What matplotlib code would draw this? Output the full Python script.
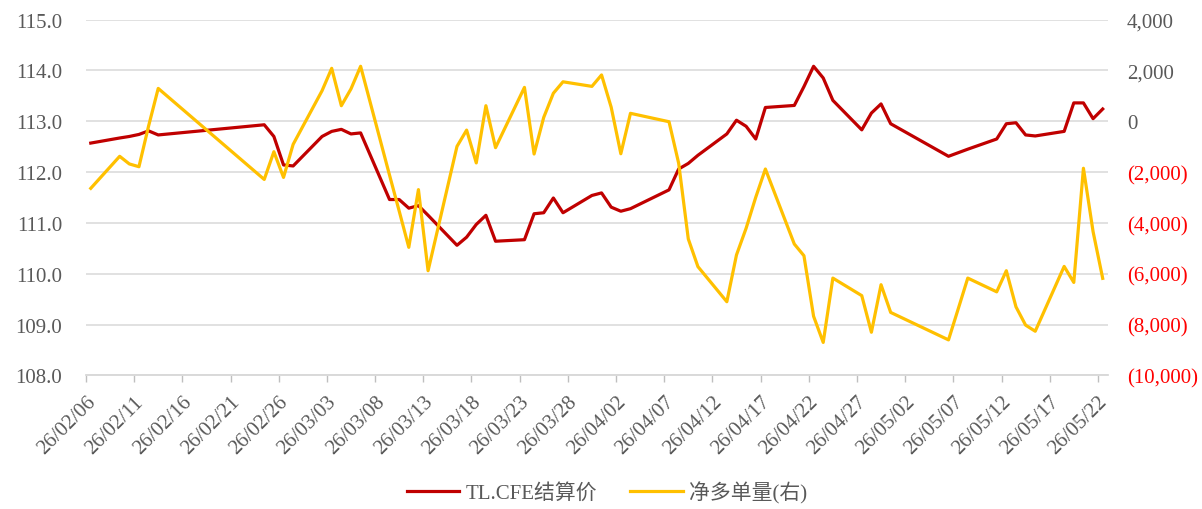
import matplotlib
matplotlib.use("Agg")
import matplotlib.pyplot as plt
import matplotlib.dates as mdates
import pandas as pd
import numpy as np

# trading days shown in the chart
dates = [
    "2026-02-06", "2026-02-09", "2026-02-10", "2026-02-11", "2026-02-12", "2026-02-13",
    "2026-02-24", "2026-02-25", "2026-02-26", "2026-02-27",
    "2026-03-02", "2026-03-03", "2026-03-04", "2026-03-05", "2026-03-06",
    "2026-03-09", "2026-03-10", "2026-03-11", "2026-03-12", "2026-03-13",
    "2026-03-16", "2026-03-17", "2026-03-18", "2026-03-19", "2026-03-20",
    "2026-03-23", "2026-03-24", "2026-03-25", "2026-03-26", "2026-03-27",
    "2026-03-30", "2026-03-31", "2026-04-01", "2026-04-02", "2026-04-03",
    "2026-04-07", "2026-04-08", "2026-04-09", "2026-04-10",
    "2026-04-13", "2026-04-14", "2026-04-15", "2026-04-16", "2026-04-17",
    "2026-04-20", "2026-04-21", "2026-04-22", "2026-04-23", "2026-04-24",
    "2026-04-27", "2026-04-28", "2026-04-29", "2026-04-30",
    "2026-05-06", "2026-05-07", "2026-05-08",
    "2026-05-11", "2026-05-12", "2026-05-13", "2026-05-14", "2026-05-15",
    "2026-05-18", "2026-05-19", "2026-05-20", "2026-05-21", "2026-05-22",
]

# TL.CFE settlement price (left axis)
price = [
    112.57, 112.67, 112.70, 112.74, 112.81, 112.73,
    112.93, 112.70, 112.14, 112.12,
    112.70, 112.80, 112.84, 112.75, 112.77,
    111.46, 111.46, 111.29, 111.34, 111.15,
    110.56, 110.72, 110.97, 111.15, 110.64,
    110.67, 111.18, 111.20, 111.49, 111.20,
    111.54, 111.59, 111.31, 111.23, 111.28,
    111.65, 112.06, 112.17, 112.33,
    112.75, 113.02, 112.90, 112.65, 113.27,
    113.31, 113.68, 114.08, 113.85, 113.41,
    112.83, 113.16, 113.34, 112.95,
    112.31, 112.38, 112.45,
    112.65, 112.95, 112.97, 112.73, 112.71,
    112.80, 113.36, 113.36, 113.05, 113.24,
]

# net long positions (right axis)
net_long = [
    -2640, -1380, -1680, -1790, -190, 1290,
    -2290, -1200, -2210, -910,
    1200, 2080, 610, 1270, 2160,
    -2120, -3530, -4960, -2690, -5880,
    -990, -350, -1640, 610, -1040,
    1330, -1290, 150, 1100, 1550,
    1370, 1820, 550, -1280, 310,
    -20, -1650, -4630, -5720,
    -7100, -5260, -4210, -2990, -1880,
    -4830, -5290, -7670, -8700, -6170,
    -6860, -8300, -6430, -7520,
    -8600, -7390, -6170,
    -6710, -5880, -7300, -8020, -8260,
    -5710, -6340, -1850, -4340, -6180,
]

series_names = ["TL.CFE结算价", "净多单量(右)"]
tick_start = "2026-02-06"
tick_end = "2026-05-22"

plt.rcParams['font.family'] = ['Liberation Serif', 'Noto Sans CJK SC']
gray = "#595959"
red = "#C00000"
yellow = "#FFC000"

x = pd.to_datetime(dates) + pd.Timedelta(hours=12)

fig = plt.figure(figsize=(12.02, 5.10), dpi=100)
ax = fig.add_axes([0.0715, 0.2618, 0.8499, 0.6980])
ax2 = ax.twinx()

ax.plot(x, price, color=red, lw=2.3, solid_joinstyle="round", zorder=3,
        label=series_names[0])
ax2.plot(x, net_long, color=yellow, lw=2.3, solid_joinstyle="round", zorder=3,
         label=series_names[1])

# left axis
ax.set_ylim(108, 115)
ax.set_yticks(np.arange(108, 115.1, 1.0))
ax.yaxis.set_major_formatter(plt.FuncFormatter(lambda v, p: f"{v:.1f}"))
ax.grid(axis="y", color="#D9D9D9", lw=1.1)
ax.set_axisbelow(True)

# right axis
ax2.set_ylim(-10000, 4000)
ax2.set_yticks(np.arange(-10000, 4001, 2000))


def fmt_right(v, p):
    if v < 0:
        return f"({abs(v):,.0f})"
    return f"{v:,.0f}"


ax2.yaxis.set_major_formatter(plt.FuncFormatter(fmt_right))

# x axis
t0 = pd.Timestamp(tick_start)
t1 = pd.Timestamp(tick_end)
ax.set_xlim(t0, t1 + pd.Timedelta(days=1))
ticks = pd.date_range(t0, t1, freq="5D")
ax.set_xticks(ticks)
ax.xaxis.set_major_formatter(mdates.DateFormatter("%y/%m/%d"))
for lbl in ax.get_xticklabels():
    lbl.set_rotation(45)
    lbl.set_ha("right")
    lbl.set_rotation_mode("anchor")

for a in (ax, ax2):
    for s in ("top", "left", "right"):
        a.spines[s].set_visible(False)
    a.spines["bottom"].set_color("#D9D9D9")
    a.spines["bottom"].set_linewidth(1.1)

ax.tick_params(axis="x", colors="#BFBFBF", length=5, width=1, labelsize=15,
               labelcolor=gray, pad=7)
ax.tick_params(axis="y", length=0, labelsize=15, labelcolor=gray, pad=17)
ax2.tick_params(axis="y", length=0, labelsize=15, labelcolor=gray, pad=14)
for v, lbl in zip(ax2.get_yticks(), ax2.get_yticklabels()):
    if v < 0:
        lbl.set_color("#FF0000")

h1, l1 = ax.get_legend_handles_labels()
h2, l2 = ax2.get_legend_handles_labels()
fig.legend(h1 + h2, l1 + l2, loc="lower center", bbox_to_anchor=(0.505, -0.025),
           ncol=2, frameon=False, fontsize=15, handlelength=2.5,
           handletextpad=0.3, columnspacing=1.6, labelcolor=gray)

fig.savefig("out.png", dpi=100)
